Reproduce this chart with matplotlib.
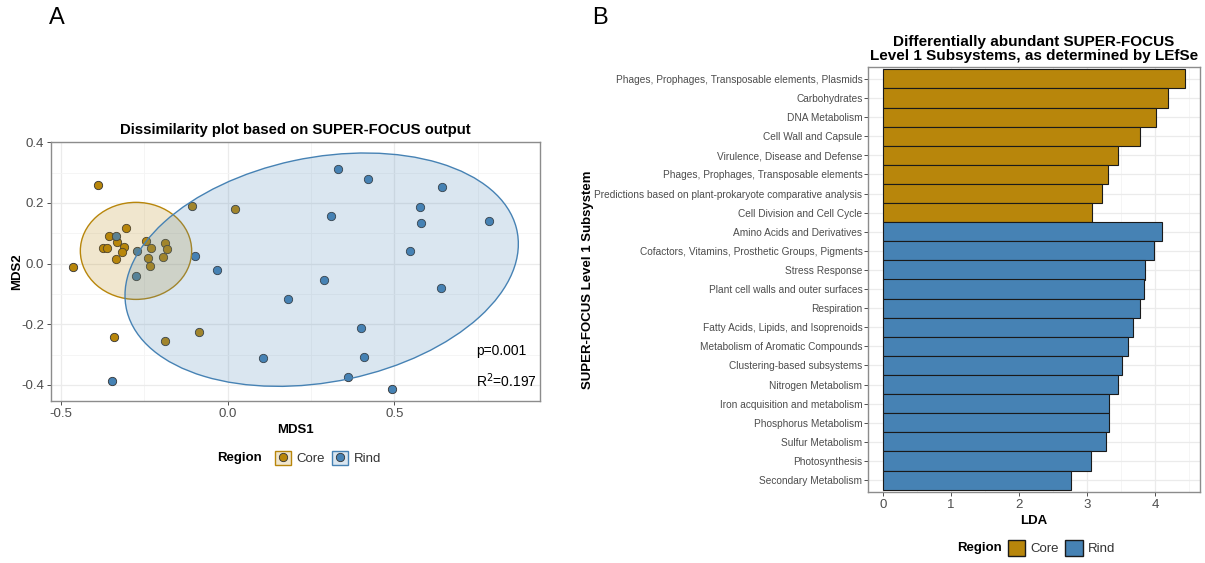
import matplotlib
matplotlib.use("Agg")
import matplotlib.pyplot as plt
from matplotlib.patches import Ellipse, Patch
from matplotlib.lines import Line2D

plt.rcParams['font.family'] = ['Liberation Sans', 'DejaVu Sans']
plt.rcParams['axes.unicode_minus'] = False

core_col = "#B8860B"
rind_col = "#4682B4"
grid_col = "#EBEBEB"
minor_col = "#F4F4F4"
text_col = "#4D4D4D"

# panel A: NMDS coordinates
core_x = [-0.390, -0.106, 0.022, -0.306, -0.355, -0.333, -0.374, -0.362, -0.311, -0.318, -0.334,
          -0.245, -0.231, -0.187, -0.183, -0.238, -0.195, -0.233, -0.464, -0.341, -0.087, -0.187]
core_y = [0.260, 0.191, 0.181, 0.116, 0.090, 0.071, 0.052, 0.051, 0.055, 0.037, 0.016,
          0.073, 0.053, 0.068, 0.048, 0.018, 0.021, -0.009, -0.010, -0.241, -0.226, -0.254]
rind_x = [-0.335, -0.272, -0.274, -0.098, -0.031, 0.181, 0.105, -0.348, 0.330, 0.422, 0.644,
          0.577, 0.309, 0.580, 0.783, 0.547, 0.289, 0.641, 0.399, 0.408, 0.362, 0.494]
rind_y = [0.091, 0.040, -0.041, 0.026, -0.021, -0.116, -0.311, -0.386, 0.312, 0.280, 0.254,
          0.187, 0.157, 0.134, 0.142, 0.043, -0.054, -0.081, -0.212, -0.308, -0.375, -0.415]

# 95% ellipses (center x, center y, width, height, angle)
core_ell = (-0.275, 0.042, 0.334, 0.320, 0)
rind_ell = (0.282, -0.020, 1.200, 0.738, 13.3)

# panel B: LEfSe results
subsystems = ["Phages, Prophages, Transposable elements, Plasmids", "Carbohydrates", "DNA Metabolism",
              "Cell Wall and Capsule", "Virulence, Disease and Defense",
              "Phages, Prophages, Transposable elements",
              "Predictions based on plant-prokaryote comparative analysis", "Cell Division and Cell Cycle",
              "Amino Acids and Derivatives", "Cofactors, Vitamins, Prosthetic Groups, Pigments",
              "Stress Response", "Plant cell walls and outer surfaces", "Respiration",
              "Fatty Acids, Lipids, and Isoprenoids", "Metabolism of Aromatic Compounds",
              "Clustering-based subsystems", "Nitrogen Metabolism", "Iron acquisition and metabolism",
              "Phosphorus Metabolism", "Sulfur Metabolism", "Photosynthesis", "Secondary Metabolism"]
lda = [4.44, 4.19, 4.01, 3.78, 3.45, 3.30, 3.22, 3.07,
       4.10, 3.98, 3.85, 3.83, 3.78, 3.68, 3.60, 3.51, 3.46, 3.32, 3.32, 3.28, 3.05, 2.76]
region = ["Core"] * 8 + ["Rind"] * 14

W, H = 1205, 563
fig = plt.figure(figsize=(W / 100, H / 100), dpi=100)


def box(l, t, r, b):
    return [l / W, 1 - b / H, (r - l) / W, (b - t) / H]


def style(ax):
    for s in ax.spines.values():
        s.set_color("#8C8C8C")
        s.set_linewidth(1.0)
    ax.tick_params(colors="#333333", labelcolor=text_col, length=3, width=0.6, pad=2)
    ax.tick_params(which="minor", length=0)
    ax.grid(True, which="major", color=grid_col, lw=0.9, zorder=0)
    ax.grid(True, which="minor", color=minor_col, lw=0.6, zorder=0)
    ax.set_axisbelow(True)


# ---- A ----
ax1 = fig.add_axes(box(51, 142, 540, 401))
style(ax1)
ax1.scatter(core_x, core_y, s=36, c=core_col, edgecolors="#333333", linewidths=0.6, zorder=2)
ax1.scatter(rind_x, rind_y, s=36, c=rind_col, edgecolors="#333333", linewidths=0.6, zorder=2)
for e, col in [(core_ell, core_col), (rind_ell, rind_col)]:
    ax1.add_patch(Ellipse((e[0], e[1]), e[2], e[3], angle=e[4], facecolor=col, alpha=0.2,
                          edgecolor="none", zorder=3))
    ax1.add_patch(Ellipse((e[0], e[1]), e[2], e[3], angle=e[4], facecolor="none",
                          edgecolor=col, lw=1.0, zorder=3))
ax1.set_xlim(-0.530, 0.937)
ax1.set_ylim(-0.453, 0.401)
ax1.set_xticks([-0.5, 0.0, 0.5])
ax1.set_xticks([-0.25, 0.25, 0.75], minor=True)
ax1.set_yticks([-0.4, -0.2, 0.0, 0.2, 0.4])
ax1.set_yticks([-0.3, -0.1, 0.1, 0.3], minor=True)
ax1.tick_params(labelsize=9.5)
ax1.set_xlabel("MDS1", fontsize=9.5, fontweight="bold", labelpad=3)
ax1.set_ylabel("MDS2", fontsize=9.5, fontweight="bold")
ax1.yaxis.set_label_coords(-0.058, 0.5)
ax1.set_title("Dissimilarity plot based on SUPER-FOCUS output", fontsize=10.7,
              fontweight="bold", pad=6)
ax1.text(0.745, -0.288, "p=0.001", fontsize=10, va="center", ha="left")
ax1.text(0.745, -0.387, "R$^2$=0.197", fontsize=10, va="center", ha="left")

fig.text(240 / W, 1 - 458 / H, "Region", fontsize=9.5, fontweight="bold", ha="center", va="center")
h_core = (Patch(facecolor=core_col, alpha=0.2, edgecolor="none"), Patch(facecolor="none", edgecolor=core_col),
          Line2D([], [], marker="o", ls="", markersize=6, markerfacecolor=core_col, markeredgecolor="#333333",
                 markeredgewidth=0.6))
h_rind = (Patch(facecolor=rind_col, alpha=0.2, edgecolor="none"), Patch(facecolor="none", edgecolor=rind_col),
          Line2D([], [], marker="o", ls="", markersize=6, markerfacecolor=rind_col, markeredgecolor="#333333",
                 markeredgewidth=0.6))
fig.legend([h_core, h_rind], ["Core", "Rind"], loc="center left", bbox_to_anchor=(263 / W, 1 - 458 / H),
           ncol=2, frameon=False, fontsize=9.5, handlelength=1.2, handleheight=1.3, handletextpad=0.4,
           columnspacing=0.6, labelcolor="#333333")

# ---- B ----
ax2 = fig.add_axes(box(868, 67, 1200, 492))
style(ax2)
ax2.tick_params(axis="y", pad=1)
n = len(subsystems)
ypos = list(range(n - 1, -1, -1))
cols = [core_col if r == "Core" else rind_col for r in region]
ax2.barh(ypos, lda, height=1.0, color=cols, edgecolor="#1A1A1A", linewidth=0.8, zorder=2)
ax2.set_yticks(ypos)
ax2.set_yticklabels(subsystems, fontsize=7.3)
ax2.set_xticks([0, 1, 2, 3, 4])
ax2.set_xticks([0.5, 1.5, 2.5, 3.5, 4.5], minor=True)
ax2.set_xlim(-0.222, 4.66)
ax2.set_ylim(-0.62, n - 0.38)
ax2.tick_params(axis="x", labelsize=9.5)
ax2.set_xlabel("LDA", fontsize=9.5, fontweight="bold", labelpad=3)
ax2.set_ylabel("SUPER-FOCUS Level 1 Subsystem", fontsize=9.5, fontweight="bold")
ax2.yaxis.set_label_coords(-0.825, 0.5)
ax2.set_title("Differentially abundant SUPER-FOCUS\nLevel 1 Subsystems, as determined by LEfSe",
              fontsize=11.0, fontweight="bold", pad=5, linespacing=1.05)

fig.text(979 / W, 1 - 548 / H, "Region", fontsize=9.5, fontweight="bold", ha="center", va="center")
fig.legend([Patch(facecolor=core_col, edgecolor="#1A1A1A"), Patch(facecolor=rind_col, edgecolor="#1A1A1A")],
           ["Core", "Rind"], loc="center left", bbox_to_anchor=(996 / W, 1 - 548 / H), ncol=2, frameon=False,
           fontsize=9.5, handlelength=1.3, handleheight=1.4, handletextpad=0.4, columnspacing=0.5,
           labelcolor="#333333")

fig.text(57 / W, 1 - 18 / H, "A", fontsize=17, ha="center", va="center")
fig.text(600 / W, 1 - 18 / H, "B", fontsize=17, ha="center", va="center")

fig.savefig("out.png", dpi=100)
